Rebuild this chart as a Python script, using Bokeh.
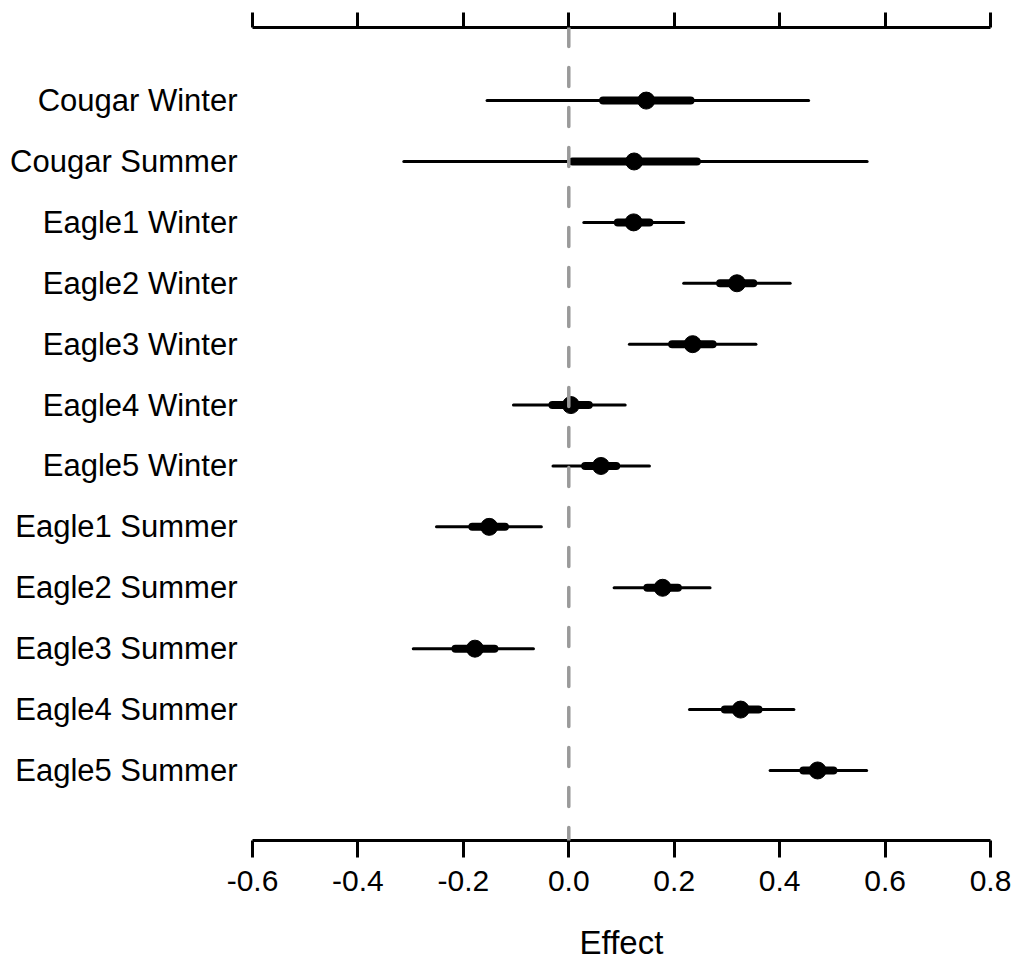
from bokeh.plotting import figure
from bokeh.models import ColumnDataSource, LinearAxis, FixedTicker, Span, Range1d
from bokeh.embed import file_html
from bokeh.resources import INLINE

labels = ["Cougar Winter", "Cougar Summer", "Eagle1 Winter", "Eagle2 Winter",
          "Eagle3 Winter", "Eagle4 Winter", "Eagle5 Winter", "Eagle1 Summer",
          "Eagle2 Summer", "Eagle3 Summer", "Eagle4 Summer", "Eagle5 Summer"]
est = [0.147, 0.124, 0.123, 0.319, 0.235, 0.004, 0.061, -0.151, 0.178, -0.178, 0.326, 0.472]
lo95 = [-0.155, -0.313, 0.0285, 0.218, 0.115, -0.105, -0.030, -0.251, 0.086, -0.295, 0.229, 0.382]
hi95 = [0.455, 0.566, 0.218, 0.420, 0.355, 0.107, 0.153, -0.052, 0.268, -0.067, 0.427, 0.565]
lo50 = [0.065, 0.007, 0.093, 0.287, 0.196, -0.031, 0.031, -0.183, 0.149, -0.215, 0.296, 0.445]
hi50 = [0.231, 0.243, 0.153, 0.350, 0.273, 0.038, 0.090, -0.121, 0.207, -0.141, 0.360, 0.502]
x_ticks = [-0.6, -0.4, -0.2, 0.0, 0.2, 0.4, 0.6, 0.8]

n = len(labels)
ypos = [n - i for i in range(n)]
src = ColumnDataSource(dict(y=ypos, est=est, lo95=lo95, hi95=hi95, lo50=lo50, hi50=hi50))

FONT = "Liberation Sans"

p = figure(width=1016, height=965, output_backend="svg", toolbar_location=None,
           x_range=Range1d(-0.6, 0.8), y_range=Range1d(-0.15, 13.2),
           x_axis_location=None, y_axis_location=None,
           min_border_left=252, min_border_right=26, min_border_top=27, min_border_bottom=125)
p.frame_width = 738
p.frame_height = 813
p.outline_line_color = None
p.xgrid.visible = False
p.ygrid.visible = False
p.background_fill_color = "white"
p.border_fill_color = "white"

p.add_layout(Span(location=0.0, dimension="height", line_color="#9a9a9a",
                  line_width=3.5, line_dash="19 21", line_cap="round"))

p.segment(x0="lo95", y0="y", x1="hi95", y1="y", source=src, line_color="black",
          line_width=3, line_cap="round")
p.segment(x0="lo50", y0="y", x1="hi50", y1="y", source=src, line_color="black",
          line_width=8, line_cap="round")
p.scatter(x="est", y="y", source=src, size=17, fill_color="black", line_color="black")

# bottom axis
xb = LinearAxis(ticker=FixedTicker(ticks=x_ticks), axis_label="Effect")
xb.major_label_overrides = {t: f"{t:.1f}" for t in x_ticks}
xb.axis_line_width = 3
xb.major_tick_line_width = 3
xb.major_tick_out = 17
xb.major_tick_in = 0
xb.minor_tick_line_color = None
xb.major_label_text_font = FONT
xb.major_label_text_font_size = "30px"
xb.major_label_text_color = "black"
xb.major_label_standoff = 13
xb.axis_label_text_font = FONT
xb.axis_label_text_font_size = "33px"
xb.axis_label_text_font_style = "normal"
xb.axis_label_text_color = "black"
xb.axis_label_standoff = 30
p.add_layout(xb, "below")

# top axis (ticks only)
xt = LinearAxis(ticker=FixedTicker(ticks=x_ticks))
xt.major_label_overrides = {t: "" for t in x_ticks}
xt.axis_line_width = 3
xt.major_tick_line_width = 3
xt.major_tick_out = 15
xt.major_tick_in = 0
xt.minor_tick_line_color = None
xt.major_label_text_font_size = "1px"
xt.major_label_standoff = 0
p.add_layout(xt, "above")

# left labels
yl = LinearAxis(ticker=FixedTicker(ticks=ypos))
yl.major_label_overrides = {y: lab for y, lab in zip(ypos, labels)}
yl.axis_line_color = None
yl.major_tick_line_color = None
yl.minor_tick_line_color = None
yl.major_tick_out = 0
yl.major_tick_in = 0
yl.major_label_standoff = 15
yl.major_label_text_font = FONT
yl.major_label_text_font_size = "31px"
yl.major_label_text_color = "black"
p.add_layout(yl, "left")

open("out.html", "w").write(file_html(p, INLINE))
